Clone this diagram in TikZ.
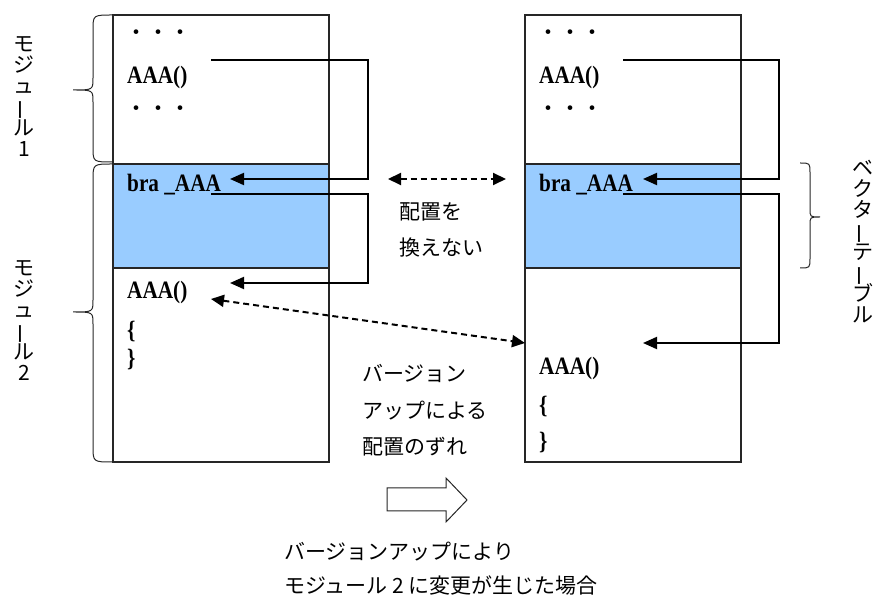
\documentclass[tikz,border=0pt]{standalone}
\usepackage{fontspec}
\usepackage{graphicx}
\setmainfont{Liberation Serif}
\newfontfamily\jp{Noto Sans CJK JP}
\newfontfamily\lat[FakeStretch=0.85]{Liberation Serif}
\usetikzlibrary{arrows.meta}
\definecolor{vecblue}{RGB}{153,204,255}
\newcommand{\vbar}{\smash{\makebox[1em]{\rotatebox[origin=c]{90}{ー}}}}
\begin{document}
\begin{tikzpicture}[x=1pt,y=-1pt,
 box/.style={draw=black!85,line width=1.2pt,minimum width=216pt,anchor=north west,inner sep=0,outer sep=0},
 code/.style={font=\lat\bfseries\fontsize{25}{25}\selectfont,anchor=west,inner sep=0},
 dots/.style={font=\jp\fontsize{22}{22}\selectfont,inner sep=0},
 jtext/.style={font=\jp\fontsize{21}{21}\selectfont,anchor=west,inner sep=0},
 vtext/.style={font=\jp\fontsize{21}{21}\selectfont,align=center,inner sep=0},
 conn/.style={line width=2pt,-{Triangle[length=14pt,width=12pt]}},
 dconn/.style={line width=2pt,dash pattern=on 6pt off 4pt,{Triangle[length=13pt,width=12pt]}-{Triangle[length=13pt,width=12pt]}},
 brc/.style={line width=1pt,black!85}
]
\useasboundingbox (0,0) rectangle (879,601);

% left memory map
\node[box,minimum height=149pt] (L1) at (113,15) {};
\node[box,minimum height=104pt,fill=vecblue] (LV) at (113,164) {};
\node[box,minimum height=194pt] (L2) at (113,268) {};
% right memory map
\node[box,minimum height=149pt] (R1) at (525,15) {};
\node[box,minimum height=104pt,fill=vecblue] (RV) at (525,164) {};
\node[box,minimum height=194pt] (R2) at (525,268) {};

% left texts
\node[dots] (ld1) at (158,35) {・・・};
\node[code] (lA) at (127,77) {AAA()};
\node[dots] (ld2) at (158,111) {・・・};
\node[code] (lbra) at (127,185) {bra \_AAA};
\node[code] (lA2) at (127,292) {AAA()};
\node[code] (lo) at (127,332) {\{};
\node[code] (lc) at (127,360) {\}};
% right texts
\node[dots] (rd1) at (570,35) {・・・};
\node[code] (rA) at (539,77) {AAA()};
\node[dots] (rd2) at (570,111) {・・・};
\node[code] (rbra) at (539,185) {bra \_AAA};
\node[code] (rA2) at (539,368) {AAA()};
\node[code] (ro) at (539,407) {\{};
\node[code] (rc) at (539,443) {\}};

% connectors left
\coordinate (la1s) at (211,60);
\coordinate (la1v) at (368,179);
\coordinate (la1e) at (230,179);
\coordinate (la2s) at (211,194);
\coordinate (la2v) at (368,283);
\coordinate (la2e) at (230,283);
\draw[conn] (la1s) -| (la1v) -- (la1e);
\draw[conn] (la2s) -| (la2v) -- (la2e);
% connectors right
\coordinate (ra1s) at (623,60);
\coordinate (ra1v) at (779,179);
\coordinate (ra1e) at (643,179);
\coordinate (ra2s) at (623,194);
\coordinate (ra2v) at (779,343);
\coordinate (ra2e) at (643,343);
\draw[conn] (ra1s) -| (ra1v) -- (ra1e);
\draw[conn] (ra2s) -| (ra2v) -- (ra2e);

% dashed arrows
\coordinate (dh1) at (388,179);
\coordinate (dh2) at (506,179);
\draw[dconn] (dh1) -- (dh2);
\coordinate (dd1) at (211,299);
\coordinate (dd2) at (525,343);
\draw[dconn] (dd1) -- (dd2);

% middle texts
\node[jtext] (t1) at (399,212) {配置を};
\node[jtext] (t2) at (399,248) {換えない};
\node[jtext] (t3) at (362,373) {バージョン};
\node[jtext] (t4) at (362,411) {アップによる};
\node[jtext] (t5) at (362,447) {配置のずれ};

% block arrow
\draw[line width=1pt,black!85,fill=white] (387,488) -- (446,488) -- (446,478) -- (467,500) -- (446,522) -- (446,511) -- (387,511) -- cycle;

% bottom texts
\node[jtext] (b1) at (284,552) {バージョンアップにより};
\node[jtext] (b2) at (284,585) {モジュール 2 に変更が生じた場合};

% braces
\draw[brc] (113,15) .. controls (93,15) .. (93,30) -- (93,78) .. controls (93,90) .. (73,90) .. controls (93,90) .. (93,102) -- (93,147) .. controls (93,162) .. (113,162);
\draw[brc] (113,164) .. controls (93,164) .. (93,180) -- (93,300) .. controls (93,312) .. (73,312) .. controls (93,312) .. (93,324) -- (93,446) .. controls (93,462) .. (113,462);
\draw[brc] (800,163) .. controls (810,163) .. (810,173) -- (810,209) .. controls (810,217) .. (820,217) .. controls (810,217) .. (810,225) -- (810,258) .. controls (810,268) .. (800,268);

% vertical labels
\node[vtext] (m1) at (24,97) {モ\\ジ\\ュ\\\vbar\\ル\\1};
\node[vtext] (m2) at (24,321) {モ\\ジ\\ュ\\\vbar\\ル\\2};
\node[vtext] (vt) at (863,242) {ベ\\ク\\タ\\\vbar\\テ\\\vbar\\ブ\\ル};
\end{tikzpicture}
\end{document}
